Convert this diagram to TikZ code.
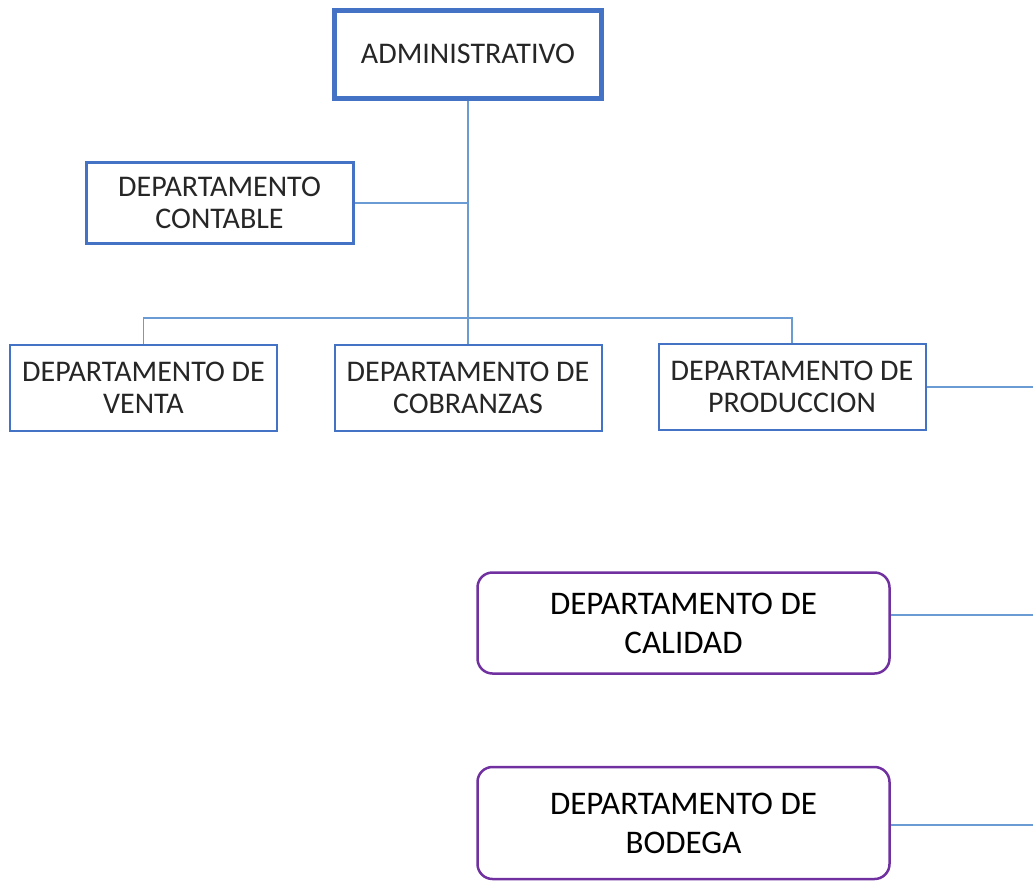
\documentclass[tikz,border=0pt]{standalone}
\usepackage{fontspec}
\setmainfont{Carlito}
\usepackage{xcolor}
\usepackage{tikz}
\usetikzlibrary{positioning}
\definecolor{oblue}{HTML}{4472C4}
\definecolor{olink}{HTML}{6A9BD3}
\definecolor{opurple}{HTML}{7030A0}
\definecolor{otext}{HTML}{262626}

\begin{document}
\begin{tikzpicture}[x=1pt, y=-1pt,
  dept/.style={draw=oblue, line width=2pt, minimum width=267pt, minimum height=86pt,
    align=center, inner sep=0pt, text=otext, font=\fontsize{30}{32}\selectfont},
  head/.style={dept, line width=5pt, minimum height=88pt},
  staff/.style={dept, line width=3pt, minimum height=81pt},
  unit/.style={draw=opurple, line width=2.5pt, rounded corners=15pt, minimum width=412pt,
    align=center, inner sep=0pt, text=black, font=\fontsize{33}{39}\selectfont},
  link/.style={draw=olink, line width=1.5pt}]

\useasboundingbox (0,0) rectangle (1033,881);

% --- top of the chart ---
\node[head] (admin) at (468,54) {ADMINISTRATIVO};
\node[staff] (contable) at (219.5,203) {DEPARTAMENTO\\CONTABLE};

% --- first row of departments ---
\node[dept] (venta) at (143.5,388) {DEPARTAMENTO DE\\VENTA};
\node[dept] (cobranzas) at (468,388) {DEPARTAMENTO DE\\COBRANZAS};
\node[dept] (produccion) at (792,387) {DEPARTAMENTO DE\\PRODUCCION};

% --- lower departments ---
\node[unit, minimum height=101pt] (calidad) at (683.5,623) {DEPARTAMENTO DE\\CALIDAD};
\node[unit, minimum height=112pt] (bodega) at (683.5,823) {DEPARTAMENTO DE\\BODEGA};

% free ends on the right edge and the bus
\coordinate (bus) at (468,318);
\coordinate (eProd) at (1033,387);
\coordinate (eCal) at (1033,615);
\coordinate (eBod) at (1033,825);

% --- connectors ---
\draw[link] (admin.south) -- (cobranzas.north);
\draw[link] (contable.east) -- (contable.east -| admin.south);
\draw[link] (venta.north) |- (bus) -| (produccion.north);
\draw[link] (produccion.east) -- (eProd);
\draw[link] (calidad.east |- eCal) -- (eCal);
\draw[link] (bodega.east |- eBod) -- (eBod);
\end{tikzpicture}
\end{document}
